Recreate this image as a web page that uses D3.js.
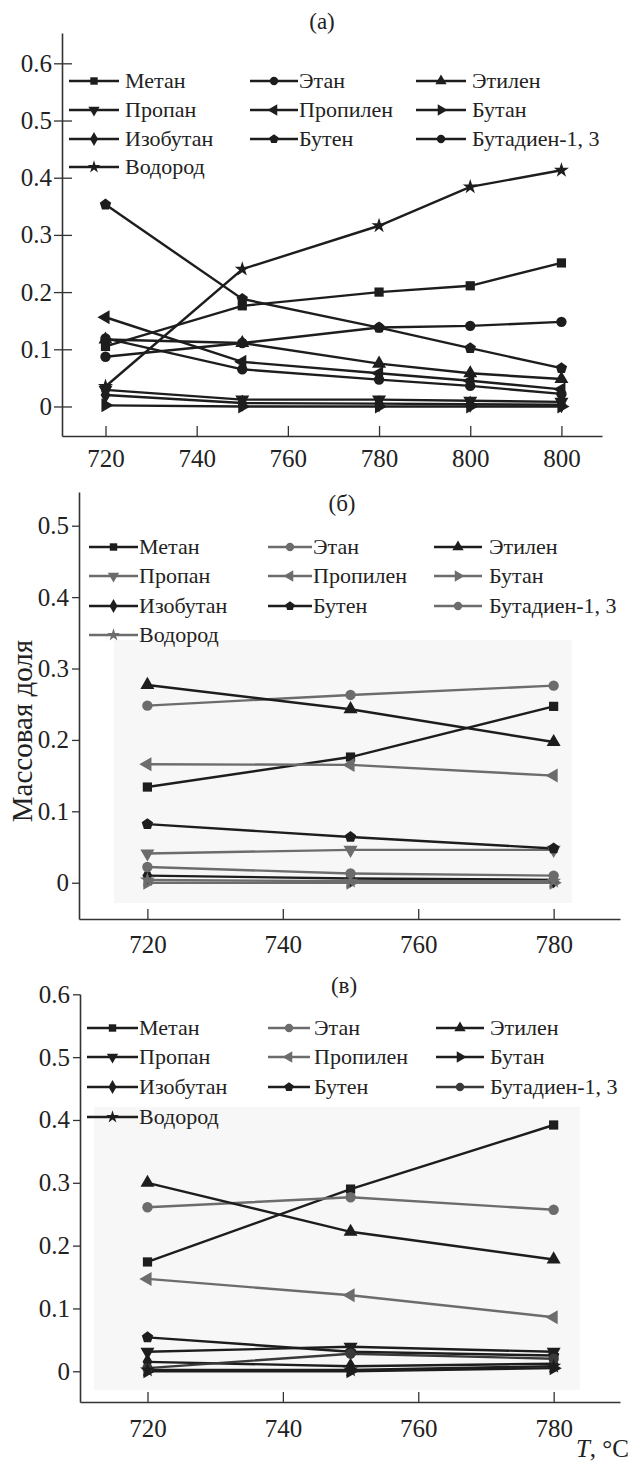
<!DOCTYPE html>
<html lang="ru">
<head>
<meta charset="UTF-8">
<title>Массовая доля продуктов</title>
<script src="https://d3js.org/d3.v7.min.js"></script>
<style>
  body { margin: 0; background: #fff; }
  svg text { font-family: "Liberation Serif", "Times New Roman", "DejaVu Serif", serif; fill: #222; }
</style>
</head>
<body>
<svg width="630" height="1462"></svg>
<script>
// names of the products, legend order
const species = ["Метан", "Этан", "Этилен", "Пропан", "Пропилен", "Бутан",
                 "Изобутан", "Бутен", "Бутадиен-1, 3", "Водород"];

// panel (a): five temperatures, the last tick is printed as "800" in the source
const tempsA = [720, 750, 780, 800, 820];
const xTicksA = [720, 740, 760, 780, 800, 820];
const xLabelsA = ["720", "740", "760", "780", "800", "800"];
const yTicksA = [0, 0.1, 0.2, 0.3, 0.4, 0.5, 0.6];
const valuesA = [
  [0.105, 0.176, 0.200, 0.211, 0.251],   // Метан
  [0.087, 0.111, 0.138, 0.141, 0.148],   // Этан
  [0.117, 0.111, 0.075, 0.058, 0.048],   // Этилен
  [0.029, 0.012, 0.012, 0.010, 0.008],   // Пропан
  [0.156, 0.078, 0.058, 0.045, 0.030],   // Пропилен
  [0.002, 0.000, 0.000, 0.000, 0.000],   // Бутан
  [0.020, 0.006, 0.005, 0.004, 0.003],   // Изобутан
  [0.353, 0.188, 0.138, 0.102, 0.067],   // Бутен
  [0.119, 0.065, 0.047, 0.036, 0.022],   // Бутадиен-1, 3
  [0.035, 0.240, 0.316, 0.384, 0.413]    // Водород
];

// panels (б) and (в): three temperatures
const tempsBC = [720, 750, 780];
const xTicksBC = [720, 740, 760, 780];
const yTicksB = [0, 0.1, 0.2, 0.3, 0.4, 0.5];
const yTicksC = [0, 0.1, 0.2, 0.3, 0.4, 0.5, 0.6];
const valuesB = [
  [0.134, 0.176, 0.247],
  [0.248, 0.263, 0.276],
  [0.277, 0.243, 0.197],
  [0.041, 0.046, 0.046],
  [0.166, 0.165, 0.150],
  [0.000, 0.000, 0.000],
  [0.010, 0.006, 0.004],
  [0.082, 0.064, 0.048],
  [0.022, 0.013, 0.010],
  [0.004, 0.002, 0.002]
];
const valuesC = [
  [0.174, 0.290, 0.392],
  [0.261, 0.277, 0.257],
  [0.300, 0.222, 0.178],
  [0.031, 0.039, 0.031],
  [0.147, 0.121, 0.086],
  [0.000, 0.000, 0.005],
  [0.015, 0.008, 0.012],
  [0.054, 0.031, 0.025],
  [0.005, 0.028, 0.020],
  [0.002, 0.002, 0.008]
];

const BLACK = "#1d1d1d", GREY = "#6c6c6c";
const coloursA = species.map(() => BLACK);
const coloursB = [BLACK, GREY, BLACK, GREY, GREY, GREY, BLACK, BLACK, GREY, GREY];
const coloursC = [BLACK, GREY, BLACK, BLACK, GREY, BLACK, BLACK, BLACK, "#3a3a3a", BLACK];

// pentagon marker for Бутен
const symbolPentagon = {
  draw(ctx, size) {
    const r = Math.sqrt(size / 2.378);
    for (let i = 0; i < 5; i++) {
      const a = -Math.PI / 2 + i * 2 * Math.PI / 5;
      if (i) ctx.lineTo(r * Math.cos(a), r * Math.sin(a));
      else ctx.moveTo(r * Math.cos(a), r * Math.sin(a));
    }
    ctx.closePath();
  }
};
const markers = [
  {type: d3.symbolSquare, rot: 0},
  {type: d3.symbolCircle, rot: 0},
  {type: d3.symbolTriangle, rot: 0},
  {type: d3.symbolTriangle, rot: 180},
  {type: d3.symbolTriangle, rot: -90},
  {type: d3.symbolTriangle, rot: 90},
  {type: d3.symbolDiamond, rot: 0},
  {type: symbolPentagon, rot: 0},
  {type: d3.symbolCircle, rot: 0},
  {type: d3.symbolStar, rot: 0}
];

const svg = d3.select("svg");
const fmt = d => d === 0 ? "0" : d.toFixed(1);

function drawPanel(cfg) {
  const g = svg.append("g");
  const x = d3.scaleLinear().domain(cfg.xDom).range([cfg.left, cfg.right]);
  const y = d3.scaleLinear().domain(cfg.yDom).range([cfg.bottom, cfg.top]);

  if (cfg.shade) {
    g.append("rect").attr("x", cfg.shade[0]).attr("y", cfg.shade[1])
      .attr("width", cfg.shade[2]).attr("height", cfg.shade[3]).attr("fill", "#f7f7f7");
  }

  // y axis
  const ya = g.append("g")
    .attr("transform", "translate(" + cfg.left + ",0)")
    .call(d3.axisLeft(y).tickValues(cfg.yTicks).tickFormat(fmt)
      .tickSizeInner(7).tickSizeOuter(0).tickPadding(3));
  ya.select(".domain").attr("stroke", "#333").attr("stroke-width", 1.6);
  ya.selectAll(".tick line").attr("stroke", "#333").attr("stroke-width", 1.3);
  if (cfg.innerY) ya.selectAll(".tick line").attr("x2", -8).attr("x1", 10);
  ya.selectAll("text").attr("font-size", 25).attr("fill", "#222");

  // x axis, ticks point inward
  const xa = g.append("g")
    .attr("transform", "translate(0," + cfg.bottom + ")")
    .call(d3.axisBottom(x).tickValues(cfg.xTicks)
      .tickFormat((d, i) => cfg.xLabels ? cfg.xLabels[i] : d)
      .tickSizeInner(-10).tickSizeOuter(0));
  xa.select(".domain").attr("stroke", "#333").attr("stroke-width", 1.6);
  xa.selectAll(".tick line").attr("stroke", "#333").attr("stroke-width", 1.3);
  xa.selectAll("text").attr("font-size", 25)
    .attr("fill", "#222").attr("y", cfg.labelDrop).attr("dy", 0);

  // title
  g.append("text").attr("x", cfg.title[1]).attr("y", cfg.title[2])
    .attr("text-anchor", "middle").attr("font-size", 23).text(cfg.title[0]);

  const line = d3.line().x((d, i) => x(cfg.temps[i])).y(d => y(d));

  // series lines, then markers
  cfg.values.forEach((vals, s) => {
    g.append("path").datum(vals).attr("d", line)
      .attr("fill", "none").attr("stroke", cfg.colours[s]).attr("stroke-width", 2.4);
  });
  cfg.values.forEach((vals, s) => {
    const m = markers[s];
    g.selectAll(null).data(vals).enter().append("path")
      .attr("d", d3.symbol(m.type, m.type === d3.symbolStar ? 70 : 85))
      .attr("transform", (d, i) => "translate(" + x(cfg.temps[i]) + "," + y(d) + ") rotate(" + m.rot + ")")
      .attr("fill", cfg.colours[s]);
  });

  // legend, 3 columns x 4 rows
  const lg = g.append("g");
  species.forEach((name, s) => {
    const col = s % 3, row = Math.floor(s / 3);
    const c = cfg.legCols[col], ry = cfg.legRows[row];
    lg.append("line").attr("x1", c[0]).attr("x2", c[1]).attr("y1", ry).attr("y2", ry)
      .attr("stroke", cfg.colours[s]).attr("stroke-width", 2.6);
    const m = markers[s];
    lg.append("path").attr("d", d3.symbol(m.type, m.type === d3.symbolStar ? 50 : 55))
      .attr("transform", "translate(" + (c[0] + c[1]) / 2 + "," + ry + ") rotate(" + m.rot + ")")
      .attr("fill", cfg.colours[s]);
    lg.append("text").attr("x", c[2]).attr("y", ry).attr("dy", "0.33em")
      .attr("font-size", 22).text(name);
  });
}

drawPanel({
  left: 62, right: 602, top: 33, bottom: 436,
  xDom: [710.46, 828.9], yDom: [-0.0516, 0.653],
  xTicks: xTicksA, xLabels: xLabelsA, yTicks: yTicksA, labelDrop: 31, innerY: true,
  temps: tempsA, values: valuesA, colours: coloursA,
  title: ["(a)", 322, 29],
  legRows: [81, 110, 139, 167],
  legCols: [[69, 119, 125], [250, 298, 299], [416, 466, 472]]
});

drawPanel({
  left: 79, right: 620, top: 492, bottom: 919,
  xDom: [709.9, 789.8], yDom: [-0.0508, 0.5472],
  xTicks: xTicksBC, yTicks: yTicksB, labelDrop: 34,
  temps: tempsBC, values: valuesB, colours: coloursB,
  title: ["(б)", 342, 511],
  shade: [114, 640, 458, 263],
  legRows: [547, 576, 606, 635],
  legCols: [[89, 138, 139], [268, 312, 313], [434, 482, 489]]
});

drawPanel({
  left: 80, right: 620, top: 994, bottom: 1402,
  xDom: [710.03, 789.8], yDom: [-0.0489, 0.6005],
  xTicks: xTicksBC, yTicks: yTicksC, labelDrop: 35,
  temps: tempsBC, values: valuesC, colours: coloursC,
  title: ["(в)", 344, 993],
  shade: [94, 1107, 486, 283],
  legRows: [1028, 1057, 1087, 1117],
  legCols: [[87, 138, 139], [268, 310, 314], [436, 484, 490]]
});

// shared axis titles
svg.append("text")
  .attr("transform", "translate(22,731) rotate(-90)")
  .attr("text-anchor", "middle").attr("dy", "0.35em").attr("font-size", 29)
  .text("Массовая доля");

const tl = svg.append("text").attr("x", 629).attr("y", 1457)
  .attr("text-anchor", "end").attr("font-size", 25);
tl.append("tspan").attr("font-style", "italic").text("T");
tl.append("tspan").text(", °C");
</script>
</body>
</html>
